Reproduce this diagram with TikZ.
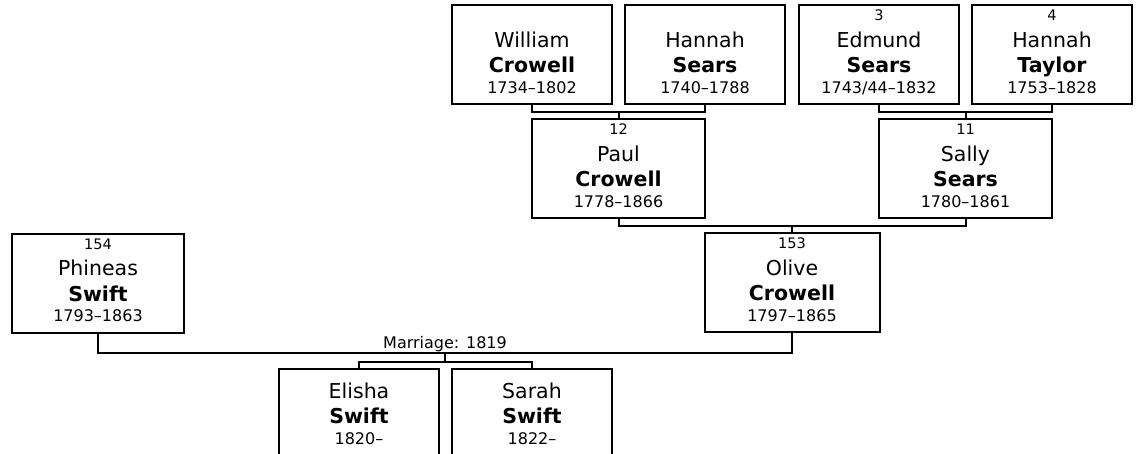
\documentclass[tikz,border=0pt]{standalone}
\usepackage{fontspec}
\setmainfont{DejaVu Sans}
\usetikzlibrary{calc}
\tikzset{
  pbox/.style={draw=black, line width=2pt, rectangle, minimum height=99pt, inner sep=0pt, anchor=north},
  conn/.style={draw=black, line width=2pt},
  txt/.style={inner sep=0pt, anchor=base},
  numf/.style={txt, font=\fontsize{14.5}{16}\selectfont},
  namef/.style={txt, font=\fontsize{20.5}{24}\selectfont},
  surf/.style={txt, font=\fontsize{20.5}{24}\selectfont\bfseries},
  yearf/.style={txt, font=\fontsize{16}{18}\selectfont},
}
% #1 id, #2 center x, #3 top y, #4 width, #5 number, #6 first, #7 last, #8 years, #9 baseline of first name
\newcommand\person[9]{%
  \node[pbox, minimum width=#4pt] (#1) at (#2,#3) {};
  \node[numf] (#1-n) at ($(#1.north)+(0,16.5)$) {#5};
  \node[namef] (#1-f) at ($(#1.north)+(0,#9)$) {#6};
  \node[surf] (#1-l) at ($(#1.north)+(0,#9+25.5)$) {#7};
  \node[yearf] (#1-y) at ($(#1.north)+(0,#9+46)$) {#8};
}
\begin{document}
\begin{tikzpicture}[x=1pt, y=-1pt]
\useasboundingbox (0,0) rectangle (1137,453);
\fill[white] (0,0) rectangle (1137,453);
\clip (0,0) rectangle (1137,453);
% top row
\person{will}{532}{4}{160}{}{William}{Crowell}{1734–1802}{43}
\person{hans}{705}{4}{160}{}{Hannah}{Sears}{1740–1788}{43}
\person{edm}{879}{4}{160}{3}{Edmund}{Sears}{1743/44–1832}{43}
\person{hant}{1052}{4}{160}{4}{Hannah}{Taylor}{1753–1828}{43}
% second row
\person{paul}{618.5}{118}{173}{12}{Paul}{Crowell}{1778–1866}{43}
\person{sally}{965.5}{118}{173}{11}{Sally}{Sears}{1780–1861}{43}
% third row
\person{phin}{98}{232.5}{172}{154}{Phineas}{Swift}{1793–1863}{43}
\person{olive}{792}{232}{175}{153}{Olive}{Crowell}{1797–1865}{43}
% children
\person{eli}{359}{368}{160}{}{Elisha}{Swift}{1820–}{30}
\person{sar}{532}{368}{160}{}{Sarah}{Swift}{1822–}{30}

% connectors
\coordinate (j1) at ($(will.south)!0.5!(hans.south)+(0,7)$);
\draw[conn] (will.south) -- ($(will.south)+(0,7)$) -| (hans.south);
\draw[conn] (j1) -- (paul.north);
\coordinate (j2) at ($(edm.south)!0.5!(hant.south)+(0,7)$);
\draw[conn] (edm.south) -- ($(edm.south)+(0,7)$) -| (hant.south);
\draw[conn] (j2) -- (sally.north);
\coordinate (j3) at ($(paul.south)!0.5!(sally.south)+(0,7)$);
\draw[conn] (paul.south) -- ($(paul.south)+(0,7)$) -| (sally.south);
\draw[conn] (j3) -- (olive.north);
% marriage
\coordinate (m) at ($(phin.south)+(0,19)$);
\draw[conn] (phin.south) -- (m) -| (olive.south);
\coordinate (k) at ($(m)!0.5!(m -| olive.south)$);
\node[txt, font=\fontsize{16}{18}\selectfont] (mlab) at ($(k)+(0,-4)$) {Marriage: 1819};
\coordinate (kb) at ($(k)+(0,9)$);
\draw[conn] (k) -- (kb);
\draw[conn] (eli.north) |- (kb) -| (sar.north);
\end{tikzpicture}
\end{document}
